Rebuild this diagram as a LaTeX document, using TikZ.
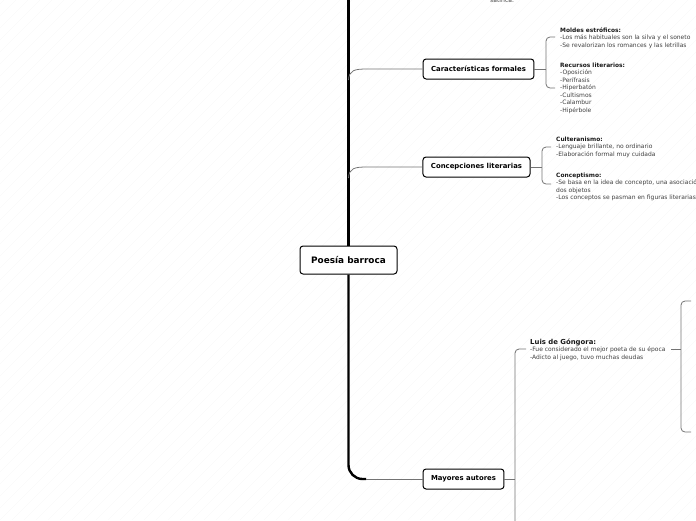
\documentclass[tikz,border=0pt]{standalone}
\usepackage{fontspec}
\setmainfont{DejaVu Sans}
\tikzstyle{central}=[draw,line width=1pt,rounded corners=3pt,fill=white,minimum width=97pt,minimum height=28pt,font=\fontsize{8.9}{10}\selectfont\bfseries]
\tikzstyle{topic}=[draw,line width=1pt,rounded corners=3pt,fill=white,minimum height=20pt,inner xsep=8pt,font=\fontsize{6.9}{8}\selectfont\bfseries]
\tikzstyle{note}=[anchor=north west,inner sep=0pt,align=left,text=black!75,font=\fontsize{6}{7.5}\selectfont]
\tikzstyle{branch}=[line width=0.8pt,black!55]
\tikzstyle{trunk}=[line width=2.4pt,black]
\tikzstyle{hatch}=[black!2.5,line width=0.4pt]
\newcommand{\hd}[1]{{\color{black!90}\fontsize{5.9}{8.5}\selectfont\bfseries #1}}

\begin{document}
\begin{tikzpicture}[x=1pt,y=-1pt]
    \useasboundingbox (0,0) rectangle (696,520);
    \clip (0,0) rectangle (696,520);
    % background
    \foreach \i in {-528,-516,...,700}
      \draw[hatch] (\i,520) -- (\i+520,0);

    \node[central] (poesia) at (348.5,260) {Poesía barroca};
    \node[topic] (caract) at (478.5,69) {Características formales};
    \node[topic] (concep) at (476.5,167) {Concepciones literarias};
    \node[topic] (autores) at (463.5,479) {Mayores autores};

    % trunk
    \draw[trunk] (348.5,-5) -- (poesia.north);
    \draw[trunk,rounded corners=14pt] (poesia.south) -- (348.5,479) -- (366,479);
    \draw[branch] (366,479) -- (autores.west);
    \draw[branch] (348.5,80) .. controls (349,70) and (355,69) .. (367,69) -- (caract.west);
    \draw[branch] (348.5,178) .. controls (349,168) and (355,167) .. (367,167) -- (concep.west);

    % top, cut off
    \node[note,anchor=base west] (satir) at (490,2.5) {satírica.};

    % caracteristicas
    \draw[branch] (caract.east) -- (546,69);
    \draw[branch,rounded corners=4pt] (555,37) -- (546,37) -- (546,88) -- (555,88);
    \node[note,font=\fontsize{6}{7.5}\selectfont] (moldes) at (560,27.5) {\hd{Moldes estróficos:}\\-Los más habituales son la silva y el soneto\\-Se revalorizan los romances y las letrillas};
    \node[note,font=\fontsize{6}{7.5}\selectfont] (recursos) at (560,62.5) {\hd{Recursos literarios:}\\-Oposición\\-Perífrasis\\-Hiperbatón\\-Cultismos\\-Calambur\\-Hipérbole};

    % concepciones
    \draw[branch] (concep.east) -- (542,167);
    \draw[branch,rounded corners=4pt] (551,147) -- (542,147) -- (542,184) -- (551,184);
    \node[note] (culter) at (556,136.5) {\hd{Culteranismo:}\\-Lenguaje brillante, no ordinario\\-Elaboración formal muy cuidada};
    \node[note] (concept) at (556,172.5) {\hd{Conceptismo:}\\-Se basa en la idea de concepto, una asociación entre\\dos objetos\\-Los conceptos se pasman en figuras literarias};

    % autores
    \draw[branch] (autores.east) -- (515,479);
    \draw[branch,rounded corners=4pt] (526,349) -- (515,349) -- (515,530);
    \node[note] (gongora) at (530,338.5) {{\color{black!90}\fontsize{6.9}{9}\selectfont\bfseries Luis de Góngora:}\\-Fue considerado el mejor poeta de su época\\-Adicto al juego, tuvo muchas deudas};
    \draw[branch] (671,349) -- (681,349);
    \draw[branch,rounded corners=4pt] (691,301) -- (681,301) -- (681,432) -- (691,432);
\end{tikzpicture}
\end{document}
